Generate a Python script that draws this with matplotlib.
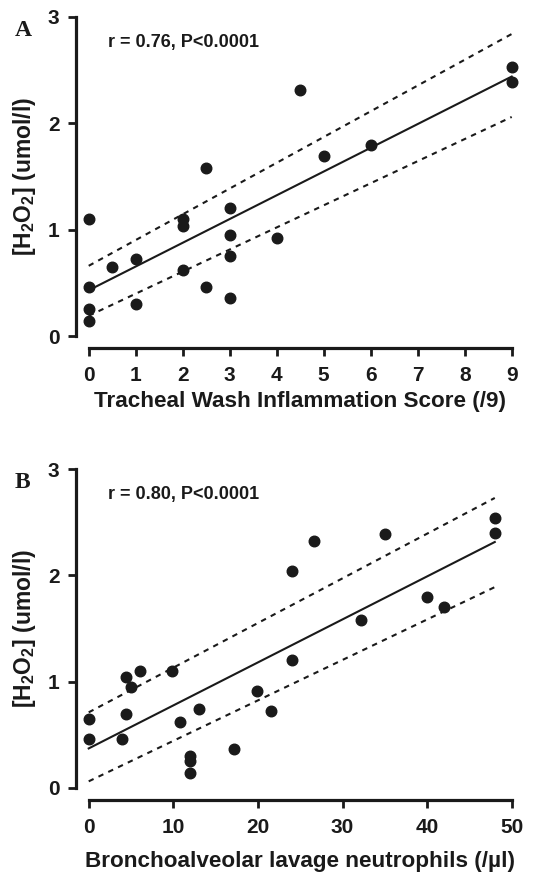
import numpy as np
import matplotlib
matplotlib.use("Agg")
import matplotlib.pyplot as plt

# ---------------- data ----------------
score_x = [0, 0, 0, 0, 0.5, 1, 1, 2, 2, 2, 2.5, 2.5, 3, 3, 3, 3, 4, 4.5, 5, 6, 9, 9]
score_y = [1.10, 0.46, 0.25, 0.14, 0.65, 0.72, 0.30, 1.10, 1.03, 0.62, 1.58, 0.46,
           1.20, 0.95, 0.75, 0.36, 0.92, 2.31, 1.69, 1.80, 2.53, 2.39]

neut_x = [0, 0, 3.9, 4.4, 4.4, 5.0, 6.1, 9.9, 10.8, 13.0, 12.0, 12.0, 12.0, 17.2,
          19.9, 21.6, 24.0, 24.0, 26.6, 32.2, 35.0, 40.0, 42.0, 48.0, 48.0]
neut_y = [0.65, 0.46, 0.46, 0.69, 1.04, 0.95, 1.10, 1.10, 0.62, 0.74, 0.30, 0.25, 0.14, 0.36,
          0.91, 0.72, 2.04, 1.20, 2.32, 1.58, 2.39, 1.80, 1.70, 2.54, 2.40]

# fitted line and 95% confidence band (x, line, upper, lower)
fitA_x = [0, 9]
fitA_line = [0.43, 2.44]
fitA_up = [0.66, 2.84]
fitA_lo = [0.19, 2.06]

fitB_x = [0, 48]
fitB_line = [0.37, 2.315]
fitB_up = [0.71, 2.73]
fitB_lo = [0.06, 1.89]

panelA = dict(letter="A", stat="r = 0.76, P<0.0001",
              xlabel="Tracheal Wash Inflammation Score (/9)",
              xticks=[0, 1, 2, 3, 4, 5, 6, 7, 8, 9], xlim=(0, 9), xlabelpad=4)
panelB = dict(letter="B", stat="r = 0.80, P<0.0001",
              xlabel="Bronchoalveolar lavage neutrophils (/\u00b5l)",
              xticks=[0, 10, 20, 30, 40, 50], xlim=(0, 50), xlabelpad=10)
yticks = [0, 1, 2, 3]
ylabel = r"[H$_\mathregular{2}$O$_\mathregular{2}$] (umol/l)"

# ---------------- drawing ----------------
plt.rcParams['font.family'] = ['Liberation Sans', 'DejaVu Sans']
plt.rcParams['mathtext.fontset'] = 'custom'
plt.rcParams['mathtext.rm'] = 'Liberation Sans:bold'
plt.rcParams['mathtext.default'] = 'rm'

W, H = 548, 876
fig = plt.figure(figsize=(W / 100, H / 100), dpi=100)

def px_axes(left, right, top, bottom):
    return [left / W, 1 - bottom / H, (right - left) / W, (bottom - top) / H]

axA = fig.add_axes(px_axes(88.7, 511.7, 17, 336))
axB = fig.add_axes(px_axes(88.7, 511.7, 469.3, 787.7))

col = "#1a1a1a"

def style(ax, x, y, fx, fl, fu, flo, info):
    ax.plot(x, y, 'o', color=col, ms=7.6, clip_on=False, zorder=3)
    ax.plot(fx, fl, '-', color=col, lw=1.5, clip_on=False)
    ax.plot(fx, fu, color=col, lw=1.5, ls=(0, (2.6, 2.6)), clip_on=False)
    ax.plot(fx, flo, color=col, lw=1.5, ls=(0, (2.6, 2.6)), clip_on=False)
    ax.set_xlim(*info["xlim"])
    ax.set_ylim(0, 3)
    ax.set_xticks(info["xticks"])
    ax.set_yticks(yticks)
    for s in ("top", "right"):
        ax.spines[s].set_visible(False)
    ax.spines["left"].set_position(("outward", 9))
    ax.spines["bottom"].set_position(("outward", 8.6))
    for s in ("left", "bottom"):
        ax.spines[s].set_linewidth(2.3)
        ax.spines[s].set_color(col)
    ax.tick_params(axis="both", direction="out", length=6, width=2, color=col,
                   labelsize=15, labelcolor=col, pad=6)
    ax.tick_params(axis="x", pad=7)
    for lab in ax.get_xticklabels() + ax.get_yticklabels():
        lab.set_fontweight("bold")
    ax.set_xlabel(info["xlabel"], fontsize=16.2, fontweight="bold", color=col,
                  labelpad=info["xlabelpad"])
    ax.set_ylabel(ylabel, fontsize=16.5, fontweight="bold", color=col, labelpad=7)
    ax.text(0.045, 0.92, info["stat"], transform=ax.transAxes, fontsize=13,
            fontweight="bold", color=col, va="center", ha="left")
    ax.text(-0.175, 0.99, info["letter"], transform=ax.transAxes, fontsize=17,
            fontweight="bold", family="Liberation Serif", color=col, va="top", ha="left")

style(axA, score_x, score_y, fitA_x, fitA_line, fitA_up, fitA_lo, panelA)
style(axB, neut_x, neut_y, fitB_x, fitB_line, fitB_up, fitB_lo, panelB)

fig.savefig("out.png", dpi=100)
